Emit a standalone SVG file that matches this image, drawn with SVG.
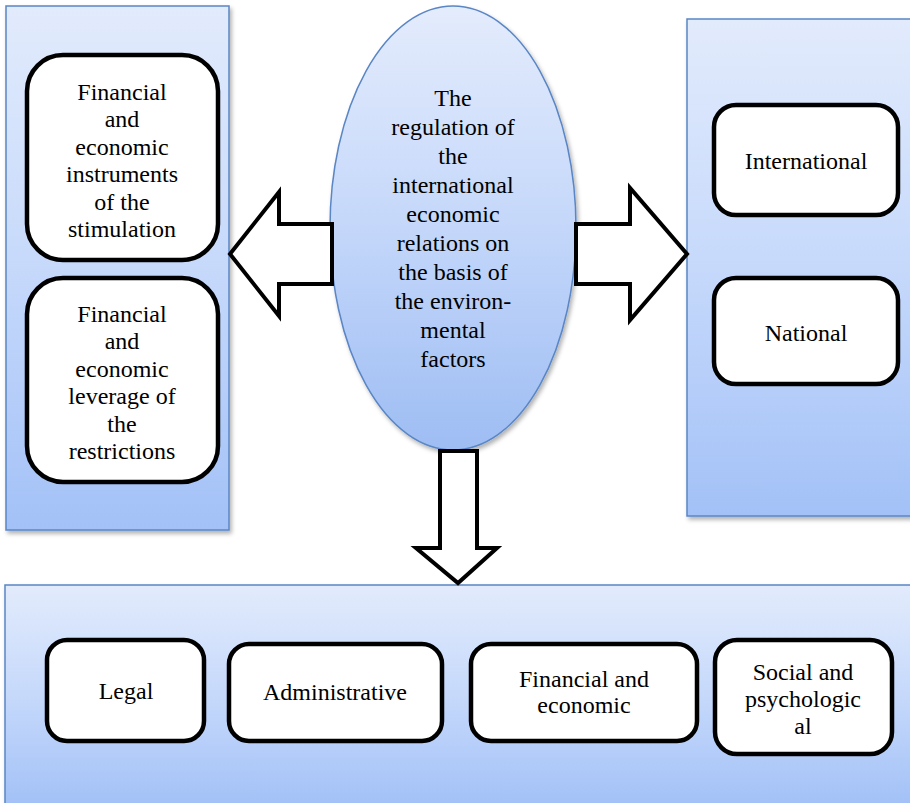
<svg xmlns="http://www.w3.org/2000/svg" width="910" height="803" viewBox="0 0 910 803">
<defs>
<linearGradient id="pg" x1="0" y1="0" x2="0" y2="1">
<stop offset="0" stop-color="#e2ebfc"/>
<stop offset="0.5" stop-color="#c6d9fb"/>
<stop offset="1" stop-color="#a3c1f7"/>
</linearGradient>
<linearGradient id="eg" x1="0" y1="0" x2="0" y2="1">
<stop offset="0" stop-color="#e4ecfc"/>
<stop offset="0.5" stop-color="#c4d7fa"/>
<stop offset="1" stop-color="#9ebdf3"/>
</linearGradient>
<filter id="sh" x="-5%" y="-5%" width="115%" height="115%">
<feDropShadow dx="2" dy="3" stdDeviation="2" flood-color="#000" flood-opacity="0.3"/>
</filter>
</defs>
<style>
.panel{fill:url(#pg);stroke:#5a86c5;stroke-width:1.5;filter:url(#sh)}
.box{fill:#fff;stroke:#000;stroke-width:4.5}
.arr{fill:#fff;stroke:#000;stroke-width:4;stroke-linejoin:miter}
.t{font-family:"Liberation Serif","Times New Roman",serif;font-size:24px;fill:#000;text-anchor:middle}
</style>
<g id="left-panel">
<rect class="panel" x="6" y="6" width="223" height="524"/>
</g>
<g id="right-panel">
<rect class="panel" x="687" y="19" width="225" height="497"/>
</g>
<g id="bottom-panel">
<rect class="panel" x="5" y="585" width="907" height="220"/>
</g>
<g id="center">
<ellipse cx="453" cy="228" rx="123" ry="222" fill="url(#eg)" stroke="#5a86c5" stroke-width="1.5" filter="url(#sh)"/>
<text class="t" x="453" y="106">The</text>
<text class="t" x="453" y="135">regulation of</text>
<text class="t" x="453" y="164">the</text>
<text class="t" x="453" y="193">international</text>
<text class="t" x="453" y="222">economic</text>
<text class="t" x="453" y="251">relations on</text>
<text class="t" x="453" y="280">the basis of</text>
<text class="t" x="453" y="309">the environ-</text>
<text class="t" x="453" y="338">mental</text>
<text class="t" x="453" y="367">factors</text>
</g>
<g id="connectors">
<polygon class="arr" points="332,224 279,224 279,192 230,254 279,316 279,284 332,284"/>
<polygon class="arr" points="576,224 630,224 630,188 687,254 630,320 630,284 576,284"/>
<polygon class="arr" points="440,451 477,451 477,548 497,548 458,583 416,548 440,548"/>
</g>
<g id="box-stimulation">
<rect class="box" x="27" y="55" width="191" height="205" rx="36"/>
<text class="t" x="122" y="100">Financial</text>
<text class="t" x="122" y="127">and</text>
<text class="t" x="122" y="155">economic</text>
<text class="t" x="122" y="182">instruments</text>
<text class="t" x="122" y="210">of the</text>
<text class="t" x="122" y="237">stimulation</text>
</g>
<g id="box-restrictions">
<rect class="box" x="27" y="278" width="191" height="204" rx="36"/>
<text class="t" x="122" y="322">Financial</text>
<text class="t" x="122" y="349">and</text>
<text class="t" x="122" y="377">economic</text>
<text class="t" x="122" y="404">leverage of</text>
<text class="t" x="122" y="432">the</text>
<text class="t" x="122" y="459">restrictions</text>
</g>
<g id="box-international">
<rect class="box" x="714" y="105" width="184" height="110" rx="22"/>
<text class="t" x="806" y="169">International</text>
</g>
<g id="box-national">
<rect class="box" x="714" y="278" width="184" height="106" rx="22"/>
<text class="t" x="806" y="341">National</text>
</g>
<g id="box-legal">
<rect class="box" x="47" y="640" width="157" height="101" rx="20"/>
<text class="t" x="126" y="699">Legal</text>
</g>
<g id="box-administrative">
<rect class="box" x="229" y="644" width="213" height="97" rx="20"/>
<text class="t" x="335" y="700">Administrative</text>
</g>
<g id="box-financial">
<rect class="box" x="471" y="644" width="226" height="97" rx="20"/>
<text class="t" x="584" y="687">Financial and</text>
<text class="t" x="584" y="713">economic</text>
</g>
<g id="box-social">
<rect class="box" x="715" y="640" width="177" height="114" rx="22"/>
<text class="t" x="803" y="680">Social and</text>
<text class="t" x="803" y="707">psychologic</text>
<text class="t" x="803" y="734">al</text>
</g>
</svg>
